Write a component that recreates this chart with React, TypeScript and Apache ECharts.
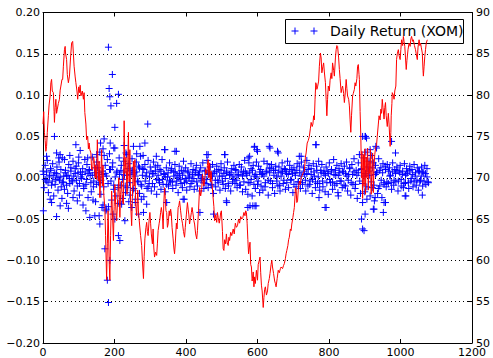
import React, { useEffect, useRef } from "react";
import * as echarts from "echarts";

// Daily returns: regular sample every 3 trading days starting at day 0
const bandStep = 3;
const bandReturns = [
  0.008, -0.012, 0.015, -0.004, 0.021, -0.018, 0.003, 0.011, -0.009, 0.017, -0.022, 0.006, -0.002, 0.013, -0.015, 0.019, 0.001, -0.011, 0.024, -0.006,
  -0.014, 0.009, 0.002, -0.019, 0.016, -0.007, 0.012, -0.003, 0.020, -0.016, 0.005, 0.014, -0.010, 0.018, -0.021, 0.007, -0.001, 0.011, -0.013, 0.022,
  -0.008, 0.016, -0.024, 0.010, 0.003, -0.017, 0.025, -0.011, 0.006, -0.029, 0.019, 0.012, -0.006, 0.031, -0.020, 0.004, -0.033, 0.027, 0.015, -0.038,
  0.022, -0.035, 0.029, 0.010, -0.027, 0.018, -0.014, 0.036, -0.022, 0.008, -0.031, 0.024, -0.009, 0.015, -0.025, 0.020, 0.003, -0.018, 0.028, -0.012,
  0.017, -0.021, 0.009, 0.023, -0.015, 0.006, -0.026, 0.019, -0.004, 0.014, -0.019, 0.026, -0.010, 0.011, -0.023, 0.016, 0.002, -0.013, 0.021, -0.007,
  0.013, -0.016, 0.005, 0.019, -0.011, 0.008, -0.020, 0.015, -0.003, 0.010, -0.014, 0.022, -0.008, 0.004, -0.017, 0.012, 0.001, -0.010, 0.018, -0.005,
  0.011, -0.013, 0.007, 0.016, -0.009, 0.003, -0.018, 0.014, -0.002, 0.009, -0.012, 0.020, -0.006, 0.012, -0.015, 0.008, 0.000, -0.011, 0.017, -0.004,
  0.010, -0.014, 0.006, 0.015, -0.010, 0.004, -0.016, 0.012, -0.001, 0.018, -0.013, 0.009, -0.007, 0.021, -0.012, 0.005, 0.013, -0.009, 0.016, -0.019,
  0.008, -0.011, 0.014, -0.003, 0.010, -0.015, 0.017, 0.002, -0.008, 0.012, -0.013, 0.006, 0.019, -0.010, 0.004, -0.016, 0.011, -0.002, 0.015, -0.007,
  0.009, -0.012, 0.003, 0.016, -0.009, 0.013, -0.017, 0.007, 0.021, -0.014, 0.005, -0.020, 0.018, -0.006, 0.011, -0.022, 0.015, 0.002, -0.013, 0.019,
  -0.008, 0.014, -0.018, 0.010, 0.004, -0.015, 0.020, -0.011, 0.007, 0.017, -0.021, 0.012, -0.004, 0.016, -0.012, 0.009, -0.019, 0.014, 0.001, -0.010,
  0.013, -0.016, 0.008, 0.018, -0.007, 0.011, -0.014, 0.005, 0.020, -0.012, 0.015, -0.003, 0.010, -0.018, 0.012, 0.006, -0.011, 0.017, -0.005, 0.014,
  -0.013, 0.019, -0.008, 0.012, 0.004, -0.016, 0.021, -0.010, 0.015, -0.004, 0.011, -0.019, 0.017, 0.002, -0.012, 0.014, -0.007, 0.020, -0.015, 0.009,
  0.016, -0.011, 0.005, -0.017, 0.013, 0.008, -0.020, 0.018, -0.006, 0.010, -0.014, 0.022, -0.009, 0.003, 0.015, -0.018, 0.011, -0.004, 0.017, -0.012,
  0.007, 0.014, -0.010, 0.019, -0.016, 0.004, 0.012, -0.021, 0.016, -0.008, 0.023, -0.013, 0.009, -0.025, 0.018, 0.028, -0.019, 0.011, -0.030, 0.024,
  -0.017, 0.031, -0.026, 0.013, 0.020, -0.022, 0.027, -0.012, 0.018, -0.028, 0.015, 0.006, -0.019, 0.023, -0.010, 0.012, -0.024, 0.017, -0.006, 0.014,
  -0.011, 0.016, -0.007, 0.012, 0.003, -0.014, 0.018, -0.009, 0.010, -0.005, 0.013, -0.016, 0.008, 0.015, -0.010, 0.004, -0.012, 0.017, -0.006, 0.011,
  0.007, -0.013, 0.014, -0.004, 0.010, -0.011, 0.016, 0.002, -0.009, 0.012, -0.015, 0.008, -0.003, 0.013, -0.010, 0.006, 0.015, -0.008, 0.011, -0.005,
];

// Quieter days: sample every 4 trading days starting at day 2
const quietStart = 2;
const quietStep = 4;
const quietReturns = [
  0.004, -0.002, 0.007, -0.006, 0.001, 0.009, -0.004, 0.003, -0.008, 0.005, 0.000, -0.003, 0.010, -0.005, 0.002, 0.006, -0.009, 0.003, -0.001, 0.008,
  -0.005, 0.002, 0.011, -0.003, 0.006, -0.007, 0.001, 0.004, -0.010, 0.007, -0.002, 0.005, 0.009, -0.006, 0.003, -0.004, 0.012, -0.008, 0.001, 0.006,
  -0.003, 0.008, -0.011, 0.005, 0.002, -0.007, 0.010, -0.004, 0.013, -0.009, 0.001, 0.006, -0.012, 0.004, 0.009, -0.002, 0.007, -0.010, 0.003, 0.011,
  -0.006, 0.004, 0.009, -0.013, 0.002, 0.007, -0.005, 0.012, -0.008, 0.003, 0.010, -0.004, 0.006, -0.011, 0.001, 0.008, -0.007, 0.005, 0.013, -0.002,
  0.003, -0.006, 0.008, -0.002, 0.005, 0.001, -0.008, 0.006, -0.003, 0.009, -0.005, 0.002, 0.007, -0.004, 0.000, 0.005, -0.007, 0.003, 0.008, -0.001,
  -0.004, 0.006, 0.002, -0.007, 0.004, -0.001, 0.009, -0.005, 0.003, 0.007, -0.003, 0.001, -0.006, 0.008, -0.002, 0.004, 0.006, -0.008, 0.002, 0.005,
  -0.003, 0.007, -0.006, 0.002, 0.009, -0.004, 0.005, -0.001, 0.008, -0.007, 0.003, 0.006, -0.005, 0.001, 0.010, -0.003, 0.004, -0.009, 0.007, 0.002,
  -0.005, 0.008, 0.003, -0.006, 0.006, -0.002, 0.009, -0.008, 0.004, 0.001, -0.004, 0.007, -0.010, 0.005, 0.002, -0.006, 0.008, -0.003, 0.006, 0.011,
  -0.007, 0.003, 0.009, -0.004, 0.006, -0.009, 0.002, 0.007, -0.003, 0.010, -0.006, 0.004, 0.008, -0.002, 0.005, -0.008, 0.003, 0.009, -0.005, 0.006,
  0.002, -0.006, 0.008, -0.003, 0.005, 0.010, -0.008, 0.004, -0.002, 0.007, -0.005, 0.009, 0.001, -0.007, 0.006, -0.004, 0.008, 0.003, -0.006, 0.005,
  -0.002, 0.007, -0.005, 0.004, 0.009, -0.007, 0.003, 0.006, -0.004, 0.008, -0.009, 0.005, 0.002, -0.003, 0.011, -0.006, 0.004, 0.007, -0.008, 0.003,
  0.006, -0.004, 0.010, -0.007, 0.002, 0.005, -0.011, 0.008, 0.003, -0.005, 0.012, -0.009, 0.004, 0.007, -0.013, 0.009, -0.003, 0.006, -0.008, 0.010,
  -0.005, 0.008, 0.002, -0.006, 0.007, -0.003, 0.005, 0.009, -0.004, 0.006, -0.002, 0.008, -0.007, 0.003, 0.005, -0.006, 0.009, -0.001, 0.004, -0.005,
  0.006, -0.003, 0.008, -0.005, 0.002, 0.007, -0.004, 0.005, 0.001, -0.006,
];

// Larger daily moves (day, return)
const bigDays = [
  183, 194, 185, 187, 190, 206, 211, 201, 293, 171, 32, 92, 104, 188, 161, 38, 48, 285, 253, 271, 227, 369, 341, 509, 458, 574, 591, 598, 635, 658,
  763, 722, 901, 905, 915, 933, 975, 986, 317, 340, 373, 462, 508, 592, 578, 633, 656, 764, 600, 717, 894, 902, 931,
  10, 44, 60, 75, 100, 125, 150, 168, 198, 232, 262, 280,
  183, 180, 187, 173, 215, 211, 159, 157, 201, 229, 1, 38, 71, 120, 131, 24, 96, 248, 290, 281, 267, 346, 395, 439, 477, 514, 145, 48, 579, 593,
  789, 772, 826, 891, 894, 901, 924, 952, 958, 1013, 1061, 929, 392, 513, 573, 587, 596, 792, 898, 926, 954, 1015,
  20, 53, 66, 84, 112, 140, 165, 176, 196, 220, 240, 258, 275,
];
const bigReturns = [
  0.158, 0.125, 0.108, 0.098, 0.087, 0.090, 0.101, 0.061, 0.065, 0.047, 0.050, 0.040, 0.033, 0.042, 0.042, 0.030, 0.028, 0.042, 0.038, 0.038, 0.039, 0.032, 0.034, 0.028, 0.028, 0.024, 0.037, 0.034, 0.036, 0.030,
  0.040, 0.026, 0.050, 0.048, 0.034, 0.036, 0.044, 0.030, 0.026, 0.034, 0.032, 0.028, 0.028, 0.038, 0.026, 0.038, 0.032, 0.040, 0.032, 0.026, 0.050, 0.050, 0.038,
  0.026, 0.024, 0.022, 0.027, 0.025, 0.024, 0.028, 0.035, 0.036, 0.030, 0.029, 0.027,
  -0.151, -0.124, -0.100, -0.086, -0.076, -0.070, -0.056, -0.046, -0.050, -0.052, -0.040, -0.047, -0.037, -0.040, -0.048, -0.030, -0.028, -0.036, -0.032, -0.042, -0.044, -0.030, -0.026, -0.042, -0.044, -0.030, -0.046, -0.034, -0.034, -0.034,
  -0.036, -0.024, -0.022, -0.050, -0.062, -0.044, -0.038, -0.042, -0.030, -0.022, -0.021, -0.024, -0.026, -0.028, -0.036, -0.034, -0.034, -0.036, -0.064, -0.038, -0.030, -0.022,
  -0.026, -0.025, -0.031, -0.024, -0.033, -0.027, -0.036, -0.040, -0.044, -0.032, -0.029, -0.030, -0.026,
];

// Price (right axis)
const priceDays = [
  0, 2, 4, 6, 8, 10, 12, 15, 17, 20, 22, 24, 26, 29, 31, 32, 34, 36, 38, 40, 43, 46, 48, 50, 53, 55, 57, 60, 62, 63,
  66, 68, 71, 74, 77, 80, 83, 85, 87, 90, 92, 95, 97, 100, 102, 104, 106, 110, 113, 115, 117, 120, 122, 125, 127, 129, 131, 134, 136, 139,
  141, 143, 146, 148, 150, 152, 155, 157, 159, 162, 164, 166, 168, 170, 173, 175, 178, 180, 182, 183, 185, 187, 189, 192, 194, 197, 199, 201, 204, 206,
  209, 212, 215, 217, 220, 222, 225, 227, 229, 232, 235, 237, 239, 241, 243, 245, 248, 250, 253, 255, 257, 259, 262, 265, 267, 270, 273, 276, 278, 281,
  283, 285, 288, 290, 292, 294, 297, 299, 301, 303, 306, 308, 310, 312, 315, 318, 320, 322, 325, 327, 329, 331, 334, 336, 338, 340, 342, 344, 346, 348,
  350, 353, 355, 357, 359, 361, 364, 366, 368, 370, 373, 375, 378, 380, 382, 385, 387, 390, 393, 396, 398, 401, 404, 406, 408, 410, 413, 415, 417, 420,
  422, 424, 427, 430, 432, 435, 438, 441, 444, 446, 448, 450, 452, 455, 458, 460, 462, 464, 466, 468, 470, 473, 475, 478, 480, 483, 486, 488, 490, 493,
  495, 497, 499, 502, 504, 506, 508, 511, 513, 515, 518, 520, 522, 525, 528, 532, 535, 538, 541, 544, 547, 550, 553, 556, 559, 562, 565, 567, 569, 571,
  573, 575, 577, 579, 581, 583, 585, 586, 588, 590, 592, 594, 597, 600, 602, 605, 607, 609, 611, 613, 616, 618, 620, 622, 625, 628, 630, 633, 635, 638,
  640, 642, 645, 648, 650, 652, 655, 658, 661, 664, 666, 670, 673, 675, 678, 680, 682, 685, 687, 689, 692, 694, 696, 699, 701, 703, 705, 706, 708, 710,
  712, 714, 717, 720, 722, 725, 728, 731, 734, 736, 739, 742, 745, 748, 750, 753, 755, 757, 759, 761, 763, 765, 766, 768, 771, 773, 776, 778, 780, 783,
  785, 787, 790, 792, 794, 796, 798, 801, 803, 806, 808, 810, 813, 815, 818, 820, 822, 824, 827, 829, 831, 834, 836, 838, 841, 843, 845, 848, 850, 852,
  855, 857, 859, 861, 863, 866, 868, 871, 873, 875, 878, 880, 882, 884, 885, 887, 889, 891, 892, 894, 896, 898, 900, 902, 904, 906, 908, 910, 912, 914,
  916, 918, 920, 922, 924, 926, 928, 930, 933, 935, 938, 940, 943, 945, 947, 949, 951, 954, 956, 958, 960, 963, 966, 968, 971, 973, 974, 976, 977, 980,
  982, 984, 987, 989, 991, 994, 996, 999, 1001, 1003, 1006, 1008, 1010, 1012, 1014, 1016, 1018, 1021, 1024, 1027, 1029, 1031, 1034, 1036, 1039, 1042, 1044, 1047, 1049, 1052,
  1054, 1056, 1058, 1061, 1063, 1064, 1066, 1068, 1070, 1072, 1075,
];
const prices = [
  76.5, 78.0, 75.5, 74.5, 73.2, 73.8, 75.5, 77.5, 78.8, 79.9, 81.5, 81.9, 80.5, 80.3, 78.0, 76.7, 78.5, 79.5, 77.8, 78.3, 79.0, 79.5, 80.6, 81.1, 81.9, 81.9, 83.5, 85.5, 85.9, 85.1,
  84.3, 82.5, 81.5, 82.3, 84.5, 86.3, 86.5, 85.0, 83.5, 82.2, 81.5, 80.5, 79.5, 81.0, 80.3, 81.2, 79.9, 80.5, 79.5, 80.3, 77.9, 76.5, 74.6, 75.0, 73.5, 74.2, 73.4, 73.0, 71.0, 71.0,
  72.5, 72.2, 70.0, 71.5, 69.8, 74.6, 69.6, 72.0, 67.6, 70.5, 73.4, 69.0, 71.5, 68.0, 66.4, 63.0, 57.6, 62.0, 66.0, 64.4, 60.0, 57.6, 63.0, 68.4, 66.0, 62.4, 66.5, 69.2, 66.0, 64.8,
  67.5, 70.0, 65.2, 68.0, 69.6, 67.0, 66.8, 76.9, 70.5, 72.5, 68.0, 71.5, 75.5, 69.5, 73.4, 67.0, 64.2, 67.5, 72.0, 69.0, 72.2, 67.0, 65.4, 68.5, 66.0, 64.4, 63.0, 61.8, 60.0, 57.8,
  60.5, 62.6, 64.0, 64.6, 63.5, 63.0, 65.0, 65.8, 64.5, 63.2, 62.0, 63.8, 61.5, 60.4, 61.0, 60.6, 62.0, 63.6, 64.5, 65.0, 65.8, 66.4, 65.5, 63.8, 67.0, 68.8, 67.5, 66.0, 65.8, 64.0,
  64.4, 66.0, 65.4, 66.2, 65.6, 64.0, 62.6, 61.5, 60.8, 62.0, 64.5, 63.8, 66.4, 66.6, 67.2, 66.0, 65.2, 64.5, 63.5, 62.8, 64.0, 65.5, 67.0, 66.2, 65.5, 64.4, 65.2, 65.8, 66.4, 65.5,
  64.8, 64.4, 63.2, 62.6, 63.6, 66.0, 68.8, 67.8, 68.6, 70.4, 69.8, 69.0, 69.6, 71.0, 70.5, 71.5, 72.2, 70.0, 71.8, 69.5, 70.8, 69.2, 68.0, 66.5, 64.8, 65.5, 64.6, 65.8, 65.2, 64.5,
  65.0, 65.8, 66.0, 63.5, 61.4, 61.2, 62.5, 62.0, 63.2, 62.2, 61.8, 62.8, 62.4, 63.4, 63.0, 63.8, 63.2, 64.5, 64.0, 64.2, 65.0, 64.5, 65.3, 65.0, 65.2, 65.8, 65.4, 66.0, 65.8, 64.5,
  62.5, 60.8, 61.5, 62.2, 59.5, 59.2, 57.5, 57.8, 58.6, 56.8, 58.0, 57.2, 58.8, 57.6, 59.5, 60.0, 60.4, 58.5, 57.0, 56.3, 54.3, 55.5, 56.5, 56.8, 55.8, 56.3, 57.2, 57.8, 58.4, 59.5,
  60.0, 59.2, 58.4, 57.5, 57.2, 56.8, 57.8, 58.8, 58.5, 59.0, 59.2, 59.0, 59.4, 59.6, 60.2, 60.8, 61.2, 61.8, 62.5, 62.8, 63.8, 63.6, 64.4, 65.2, 65.8, 66.4, 67.8, 68.8, 68.5, 67.0,
  67.2, 68.5, 69.6, 69.2, 70.0, 70.3, 70.6, 70.8, 72.5, 73.0, 74.2, 74.5, 75.0, 76.0, 76.7, 76.2, 76.5, 77.5, 77.0, 79.5, 81.5, 81.2, 80.7, 81.0, 81.7, 83.5, 85.1, 84.5, 82.7, 83.5,
  83.9, 82.8, 81.5, 79.5, 77.5, 79.5, 81.1, 80.5, 81.8, 82.7, 82.0, 83.9, 83.0, 82.3, 84.5, 85.5, 86.0, 85.9, 84.5, 83.1, 82.0, 80.3, 80.8, 81.1, 80.2, 79.1, 80.0, 81.9, 80.8, 79.9,
  79.5, 78.7, 77.0, 75.5, 77.5, 79.9, 80.2, 80.7, 81.5, 81.1, 82.0, 83.5, 83.7, 82.5, 81.9, 78.0, 75.0, 70.0, 73.2, 67.5, 72.8, 69.0, 73.5, 68.0, 72.5, 70.0, 73.6, 68.5, 72.0, 70.5,
  73.5, 68.0, 71.0, 73.0, 68.2, 71.5, 72.8, 73.5, 74.0, 75.0, 76.5, 77.5, 77.0, 78.3, 77.8, 79.5, 78.5, 77.1, 78.5, 79.1, 77.5, 76.2, 77.8, 76.5, 73.8, 75.5, 77.5, 79.0, 80.3, 80.0,
  79.5, 80.5, 81.1, 84.3, 85.0, 85.5, 84.8, 84.3, 85.5, 86.7, 86.0, 87.1, 86.5, 85.9, 84.5, 83.1, 84.2, 85.5, 86.3, 85.9, 86.8, 87.1, 86.5, 86.7, 86.0, 85.5, 85.0, 84.3, 85.8, 86.7,
  86.0, 86.3, 85.8, 85.1, 83.0, 82.3, 83.5, 84.7, 85.5, 86.3, 86.7,
];

const legendLabel = "Daily Return (XOM)";
const FONT = '"DejaVu Sans", Verdana, sans-serif';
const PLUS = "path://M5,0L5,10M0,5L10,5";

export default function App() {
  const ref = useRef<HTMLDivElement>(null);

  useEffect(() => {
    if (!ref.current) return;
    const chart = echarts.init(ref.current, undefined, { renderer: "svg" });

    const returnPoints: [number, number][] = [];
    bandReturns.forEach((r, i) => returnPoints.push([i * bandStep, r]));
    quietReturns.forEach((r, i) => returnPoints.push([quietStart + i * quietStep, r]));
    bigDays.forEach((d, i) => returnPoints.push([d, bigReturns[i]]));
    const pricePoints = priceDays.map((d, i) => [d, prices[i]]);

    const fmtLeft = (v: number) => {
      const s = Math.abs(v).toFixed(2);
      return v < -1e-9 ? "\u2212" + s : s;
    };

    const axisLabelStyle = { color: "#000", fontFamily: FONT, fontSize: 11 };
    const tick = { show: true, inside: true, length: 4, lineStyle: { color: "#000", width: 1 } };
    const line = { show: true, onZero: false, lineStyle: { color: "#000", width: 1 } };

    chart.setOption({
      animation: false,
      backgroundColor: "#fff",
      grid: { left: 43, right: 21, top: 12.5, bottom: 13.7, containLabel: false },
      xAxis: [
        {
          type: "value", position: "bottom", min: 0, max: 1200, interval: 200,
          axisLine: line, axisTick: tick, splitLine: { show: false },
          axisLabel: { ...axisLabelStyle, margin: 4, formatter: (v: number) => String(v) },
        },
        {
          type: "value", position: "top", min: 0, max: 1200, interval: 200,
          axisLine: line, axisTick: tick, splitLine: { show: false },
          axisLabel: { show: false },
        },
      ],
      yAxis: [
        {
          type: "value", position: "left", min: -0.2, max: 0.2, interval: 0.05,
          axisLine: line, axisTick: tick,
          splitLine: { show: true, lineStyle: { color: "#000", width: 1, type: [1, 3] } },
          axisLabel: { ...axisLabelStyle, margin: 3, formatter: fmtLeft },
        },
        {
          type: "value", position: "right", min: 50, max: 90, interval: 5,
          axisLine: line, axisTick: tick, splitLine: { show: false },
          axisLabel: { ...axisLabelStyle, margin: 4 },
        },
      ],
      series: [
        {
          type: "scatter",
          name: legendLabel,
          xAxisIndex: 0, yAxisIndex: 0,
          data: returnPoints,
          symbol: PLUS,
          symbolSize: 7,
          z: 2,
          itemStyle: { color: "#0000ff", borderColor: "#0000ff", borderWidth: 1, opacity: 1 },
          emphasis: { disabled: true },
        },
        {
          type: "line",
          name: "Price",
          xAxisIndex: 0, yAxisIndex: 1,
          data: pricePoints,
          showSymbol: false,
          symbol: "none",
          z: 10,
          lineStyle: { color: "#ff0000", width: 1 },
          emphasis: { disabled: true },
        },
      ],
      graphic: [
        {
          type: "rect", z: 5,
          shape: { x: 285.5, y: 19.5, width: 178, height: 24 },
          style: { fill: "#fff", stroke: "#000", lineWidth: 1 },
        },
        { type: "line", z: 6, shape: { x1: 291.5, y1: 31, x2: 298.5, y2: 31 }, style: { stroke: "#0000ff", lineWidth: 1 } },
        { type: "line", z: 6, shape: { x1: 295, y1: 27.5, x2: 295, y2: 34.5 }, style: { stroke: "#0000ff", lineWidth: 1 } },
        { type: "line", z: 6, shape: { x1: 310.5, y1: 31, x2: 317.5, y2: 31 }, style: { stroke: "#0000ff", lineWidth: 1 } },
        { type: "line", z: 6, shape: { x1: 314, y1: 27.5, x2: 314, y2: 34.5 }, style: { stroke: "#0000ff", lineWidth: 1 } },
        {
          type: "text", z: 6, x: 330, y: 31,
          style: { text: legendLabel, fill: "#000", font: `14px ${FONT}`, verticalAlign: "middle", textVerticalAlign: "middle" },
        },
      ],
    });

    return () => chart.dispose();
  }, []);

  return (
    <div
      ref={ref}
      style={{ position: "fixed", left: 0, top: 0, width: 493, height: 358, background: "#fff" }}
    />
  );
}
